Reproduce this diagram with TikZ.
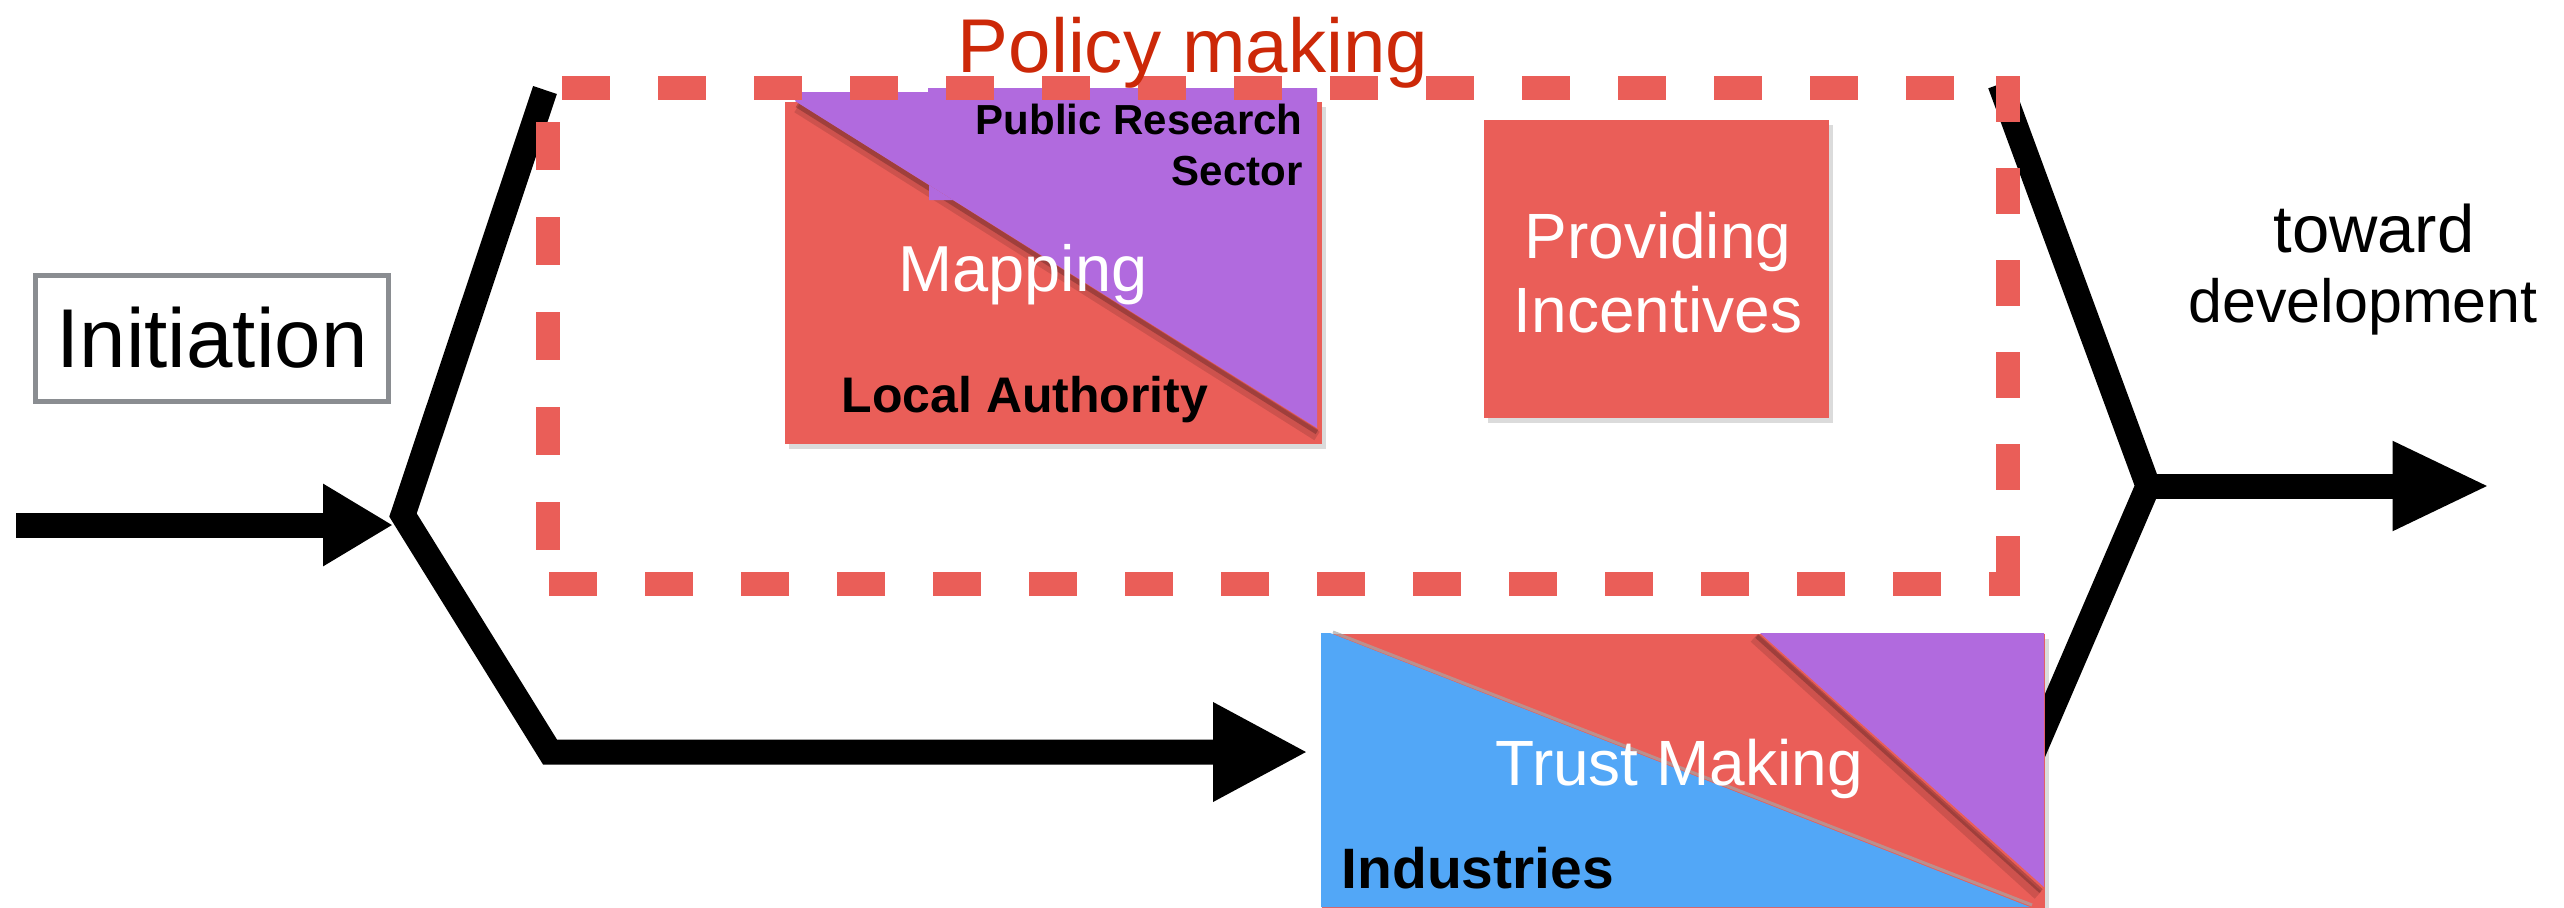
\documentclass[tikz,border=0pt]{standalone}
\usepackage{fontspec}
\setmainfont{Liberation Sans}
\usetikzlibrary{arrows.meta}
\definecolor{cred}{RGB}{234,94,88}
\definecolor{cpurple}{RGB}{177,106,222}
\definecolor{cblue}{RGB}{82,167,247}
\definecolor{ctitle}{RGB}{204,40,8}
\definecolor{cgray}{RGB}{138,141,145}
\newcommand\myfs[1]{\fontsize{#1}{#1}\selectfont}
\begin{document}
\begin{tikzpicture}[x=0.4pt,y=-0.4pt,
  blk/.style={line width=10pt,draw=black,line join=miter,miter limit=20},
  tipA/.style={-{Triangle[length=28pt,width=31pt]}},
  tipB/.style={-{Triangle[length=38pt,width=37pt]}},
  tipC/.style={-{Triangle[length=39pt,width=33pt]}},
  redline/.style={draw=cred,line width=9.6pt},
  dashH/.style={redline,dash pattern=on 19.2pt off 19.2pt},
  dashR/.style={redline,dash pattern=on 18.4pt off 18.4pt},
  dashL/.style={redline,dash pattern=on 19pt off 19pt},
  shade/.style={fill=black,opacity=0.14},
  colbox/.style={inner sep=0pt,anchor=north west,draw=none},
  lbl/.style={inner sep=0pt,anchor=base},
]
\useasboundingbox (0,0) rectangle (2564,907);

% connectors (black)
\coordinate (inS) at (16,525);
\coordinate (inT) at (393,525);
\coordinate (J) at (403,515);
\coordinate (Ltop) at (545,90);
\coordinate (Lcor) at (550,752);
\coordinate (Ltip) at (1308,752);
\coordinate (Rtop) at (2000,84);
\coordinate (RJ) at (2148,486);
\coordinate (Rbot) at (2000,830);
\coordinate (Rtip) at (2490,486);

\draw[blk,tipA] (inS) -- (inT);
\draw[blk,tipB] (Ltop) -- (J) -- (Lcor) -- (Ltip);
\draw[blk] (Rtop) -- (RJ) -- (Rbot);
\draw[blk,tipC] (RJ) -- (Rtip);

% Initiation
\node[draw=cgray,line width=2pt,minimum width=140.8pt,minimum height=50.4pt,inner sep=0pt,
      font=\myfs{33.4pt}] (init) at (212,338) {Initiation};

% Mapping box
\fill[shade] (789,107) rectangle (1326,449);
\node[colbox,fill=cred,minimum width=214.8pt,minimum height=136.8pt] (map) at (784,101) {};
\draw[black,opacity=0.12,line width=4pt] (797,108) -- (1317,436);
\draw[black,opacity=0.22,line width=2pt] (797,105) -- (1317,432);
\fill[cpurple] (795,101) -- (800,92) -- (928,92) -- (928,88) -- (1317,88) -- (1317,428) -- cycle;
\fill[cpurple] (929,185) -- (929,200) -- (953,200) -- cycle;

% Providing Incentives box
\fill[shade] (1488,125) rectangle (1833,423);
\node[colbox,fill=cred,minimum width=138pt,minimum height=119.2pt] (prov) at (1483,119) {};

% Trust Making box
\fill[shade] (1326,639) rectangle (2049,913);
\node[colbox,fill=cred,minimum width=289.2pt,minimum height=109.6pt] (trust) at (1321,633) {};
\fill[cblue] (1321,633) -- (1330,633) -- (2030,907) -- (1321,907) -- cycle;
\draw[gray!70,opacity=0.7,line width=1.2pt] (1333,632) -- (2032,905);
\draw[black,opacity=0.12,line width=4pt] (1754,638) -- (2038,895);
\draw[black,opacity=0.22,line width=2pt] (1757,636) -- (2041,891);
\fill[cpurple] (1760,633) -- (2044,633) -- (2044,887) -- cycle;

% dashed policy frame
\coordinate (pTL) at (562,88);
\coordinate (pTR) at (1954,88);
\coordinate (pRT) at (2008,76);
\coordinate (pRB) at (2008,536);
\coordinate (pBR) at (1989,584);
\coordinate (pBRc) at (2008,584);
\coordinate (pBL) at (549,584);
\coordinate (pBE) at (1941,584);
\coordinate (pLT) at (548,122);
\coordinate (pLB) at (548,552);
\draw[dashH] (pTL) -- (pTR);
\draw[dashR] (pRT) -- (pRB);
\draw[redline,line join=miter] (pBR) -- (pBRc) -- (pRB);
\draw[dashH] (pBL) -- (pBE);
\draw[dashL] (pLT) -- (pLB);

% texts
\node[lbl,text=ctitle,font=\myfs{30.5pt}] (policy) at (1193,72) {Policy making};
\node[lbl,anchor=base east,font=\bfseries\myfs{16.8pt}] (prs1) at (1303,134) {Public Research};
\node[lbl,anchor=base east,font=\bfseries\myfs{16.8pt}] (prs2) at (1303,185) {Sector};
\node[lbl,text=white,font=\myfs{26pt}] (maptxt) at (1023,291) {Mapping};
\node[lbl,font=\bfseries\myfs{20pt}] (local) at (1025,412) {Local Authority};
\node[lbl,text=white,font=\myfs{25.6pt}] (prov1) at (1658,258) {Providing};
\node[lbl,text=white,font=\myfs{25.6pt}] (prov2) at (1658,332) {Incentives};
\node[lbl,text=white,font=\myfs{25.6pt}] (trusttxt) at (1679,785) {Trust Making};
\node[lbl,anchor=base west,font=\bfseries\myfs{22.8pt}] (ind) at (1341,888) {Industries};
\node[lbl,font=\myfs{26.8pt}] (tow1) at (2374,252) {toward};
\node[lbl,font=\myfs{24.4pt}] (tow2) at (2363,322) {development};
\end{tikzpicture}
\end{document}
